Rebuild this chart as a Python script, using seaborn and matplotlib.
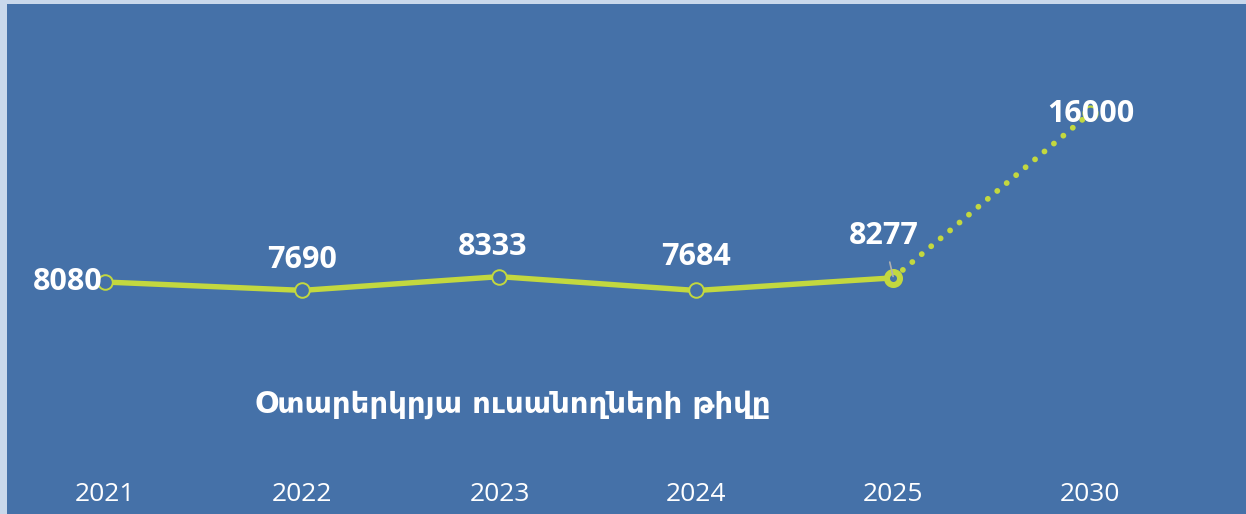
import pandas as pd
import numpy as np
import matplotlib
matplotlib.use("Agg")
import matplotlib.pyplot as plt
import seaborn as sns

years = ["2021", "2022", "2023", "2024", "2025", "2030"]
students = [8080, 7690, 8333, 7684, 8277, 16000]
title = "Օտարերկրյա ուսանողների թիվը"

bg = "#4571a8"
green = "#c3d83f"

actual = pd.DataFrame({"year": years[:5], "value": students[:5]})
forecast = pd.DataFrame({"year": years[4:], "value": students[4:]})

fig = plt.figure(figsize=(12.46, 5.14), dpi=100, facecolor="#c9d8eb")
ax = fig.add_axes([7 / 1246, 0, 1 - 7 / 1246, 1 - 4 / 514])
ax.set_facecolor(bg)

sns.lineplot(data=actual, x="year", y="value", ax=ax, color=green, lw=3.9,
             marker="o", markersize=10.5, markerfacecolor=bg,
             markeredgecolor=green, markeredgewidth=1.4, sort=False)
sns.lineplot(data=forecast, x="year", y="value", ax=ax, color=green, lw=4.2,
             linestyle=(0, (0.01, 2.1)), dash_capstyle="round", sort=False)
# forecast point, mostly hidden under its label
ax.plot([5], [students[5]], marker="o", markersize=10, markerfacecolor="none",
        markeredgecolor=green, markeredgewidth=1.6, linestyle="none",
        zorder=4)
# highlighted last actual point
ax.plot([4], [students[4]], marker="o", markersize=9.4, markerfacecolor=bg,
        markeredgecolor=green, markeredgewidth=4.3, zorder=5)

ax.set_xlim(-0.5, 5.79)
ax.set_ylim(-2790, 21110)
ax.set_yticks([])
ax.set_xlabel("")
ax.set_ylabel("")
for s in ax.spines.values():
    s.set_visible(False)
ax.tick_params(axis="x", length=0, pad=-23, labelsize=19, labelcolor="white")
for t in ax.get_xticklabels():
    t.set_fontfamily("Open Sans")

# data labels
offsets = [(-2, 0, "right", "center"), (0, 22, "center", "center"),
           (-5, 21, "center", "center"), (0, 24, "center", "center"),
           (-7, 30, "center", "center"), (0, -1, "center", "center")]
for i, (v, (dx, dy, ha, va)) in enumerate(zip(students, offsets)):
    kw = {}
    if i == 4:
        kw["arrowprops"] = dict(arrowstyle="-", color="#b0b0b0", lw=1.2,
                                shrinkA=6, shrinkB=1)
    ax.annotate(f"{v}", xy=(i, v), xytext=(dx, dy), textcoords="offset points",
                ha=ha, va=va, color="white", fontsize=22, fontweight="bold",
                fontfamily="Open Sans", zorder=6, **kw)

ax.text(0.408, 0.215, title, transform=ax.transAxes, ha="center", va="center",
        color="white", fontsize=21, fontweight="bold",
        family=["DejaVu Sans", "Noto Sans"])

fig.savefig("out.png", dpi=100, facecolor=fig.get_facecolor())
